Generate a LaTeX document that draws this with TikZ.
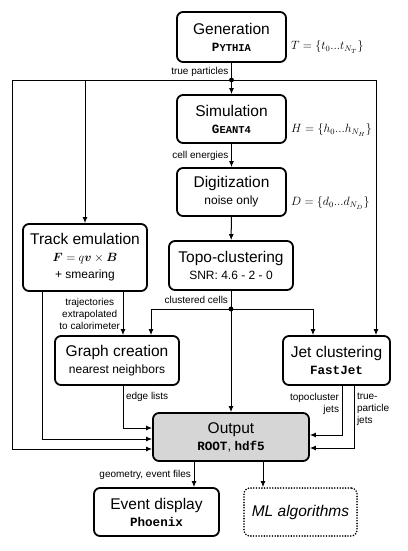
\documentclass[tikz,border=0pt]{standalone}
\usepackage{fontspec}
\usepackage{bm}
\setmainfont{Liberation Sans}
\setmonofont{Liberation Mono}
\usetikzlibrary{arrows.meta,positioning}

\newcommand{\tool}[1]{{\fontsize{12.6}{14}\selectfont\ttfamily\bfseries #1}}
\newcommand{\scsmall}{\fontsize{10.5}{12}\selectfont}
\newcommand{\boxsub}[1]{{\fontsize{12}{14}\selectfont #1}}

\tikzset{
	box/.style={draw, line width=1.8pt, rounded corners=6pt, align=center, inner sep=2pt,
		font=\fontsize{15.5}{17}\selectfont},
	conn/.style={line width=1pt},
	arrow/.style={conn, -{Latex[length=6pt,width=5pt]}},
	lbl/.style={font=\fontsize{10}{12}\selectfont, inner sep=2.5pt},
	mlbl/.style={font=\fontsize{12}{14}\selectfont, inner sep=1pt}
}

\begin{document}
\begin{tikzpicture}[x=1pt,y=-1pt]
		\useasboundingbox (0,0) rectangle (407,551);
		% boxes
		\node[box, minimum width=109pt, minimum height=50pt] (gen) at (231.5,37) {Generation\\\tool{P{\scsmall YTHIA}}};
		\node[box, minimum width=109pt, minimum height=48pt] (sim) at (231.5,119) {Simulation\\\tool{G{\scsmall EANT4}}};
		\node[box, minimum width=109pt, minimum height=48pt] (digi) at (231.5,192) {Digitization\\\boxsub{noise only}};
		\node[box, minimum width=124pt, minimum height=49pt] (topo) at (231,265.5) {Topo-clustering\\\boxsub{SNR: 4.6 - 2 - 0}};
		\node[box, minimum width=124pt, minimum height=67pt] (track) at (85,257.5) {Track emulation\\\boxsub{$\bm{F}=q\bm{v}\times\bm{B}$}\\\boxsub{+ smearing}};
		\node[box, minimum width=124pt, minimum height=49pt] (graph) at (117,360.5) {Graph creation\\\boxsub{nearest neighbors}};
		\node[box, minimum width=107pt, minimum height=49pt] (jet) at (336.5,360.5) {Jet clustering\\\tool{FastJet}};
		\node[box, fill=black!16, minimum width=156pt, minimum height=48pt] (out) at (231,437) {Output\\\tool{ROOT}{\fontsize{12.6}{14}\selectfont, }\tool{hdf5}};
		\node[box, minimum width=125pt, minimum height=48pt] (disp) at (156.5,512) {Event display\\\tool{Phoenix}};
		\node[box, dash pattern=on 0pt off 2.7pt, line cap=round, minimum width=113pt, minimum height=48pt] (ml) at (300.5,512) {\itshape ML algorithms};
		% sets
		\node[mlbl, anchor=west, right=3pt of gen.east, yshift=-10pt] (tset) {$T=\{t_0...t_{N_T}\}$};
		\node[mlbl, anchor=west, right=3pt of sim.east, yshift=-11pt] (hset) {$H=\{h_0...h_{N_H}\}$};
		\node[mlbl, anchor=west, right=3pt of digi.east, yshift=-11pt] (dset) {$D=\{d_0...d_{N_D}\}$};
		% true particles
		\coordinate (tp) at (gen.south |- 0,80);
		\coordinate (lbus) at (12,80);
		\coordinate (rbus) at (376,80);
		\draw[conn] (gen.south) -- node[lbl,left]{true particles} (tp);
		\draw[arrow] (tp) -- (sim.north);
		\draw[arrow] (tp) -- (lbus) |- ([yshift=-12pt]out.west);
		\draw[arrow] (track.north |- tp) -- (track.north);
		\draw[arrow] (tp) -- (rbus) -- (rbus |- jet.north);
		\fill (tp) circle (2.4pt);
		% calorimeter chain
		\draw[arrow] (sim) -- node[lbl,left]{cell energies} (digi);
		\draw[arrow] (digi) -- (topo);
		\coordinate (cc) at (topo.south |- 0,309);
		\draw[conn] (topo.south) -- node[lbl,left]{clustered cells} (cc);
		\draw[arrow] (cc) -- (out.north);
		\draw[arrow] (cc) -| ([xshift=34pt]graph.north);
		\draw[arrow] (cc) -| ([xshift=-23.5pt]jet.north);
		\fill (cc) circle (2.4pt);
		% tracks and graph
		\draw[arrow] ([xshift=38pt]track.south) -- node[lbl,left,align=center]{trajectories\\extrapolated\\to calorimeter} ([xshift=6pt]graph.north);
		\draw[arrow] ([xshift=-43pt]track.south) |- ([yshift=-2pt]out.west);
		\draw[arrow] ([xshift=6pt]graph.south) |- node[lbl,right,pos=0.13]{edge lists} ([yshift=9pt]out.west);
		% jets
		\draw[arrow] ([xshift=5.5pt]jet.south) |- node[lbl,left,pos=0.18,align=right]{topocluster\\jets} ([yshift=2pt]out.east);
		\draw[arrow] ([xshift=17.5pt]jet.south) |- node[lbl,right,pos=0.19,align=left]{true-\\particle\\jets} ([yshift=-11pt]out.east);
		% output
		\draw[arrow] ([xshift=-37pt]out.south) -- node[lbl,left]{geometry, event files} ([xshift=37.5pt]disp.north);
		\draw[arrow] ([xshift=32pt]out.south) -- ([xshift=-37.5pt]ml.north);
\end{tikzpicture}
\end{document}
